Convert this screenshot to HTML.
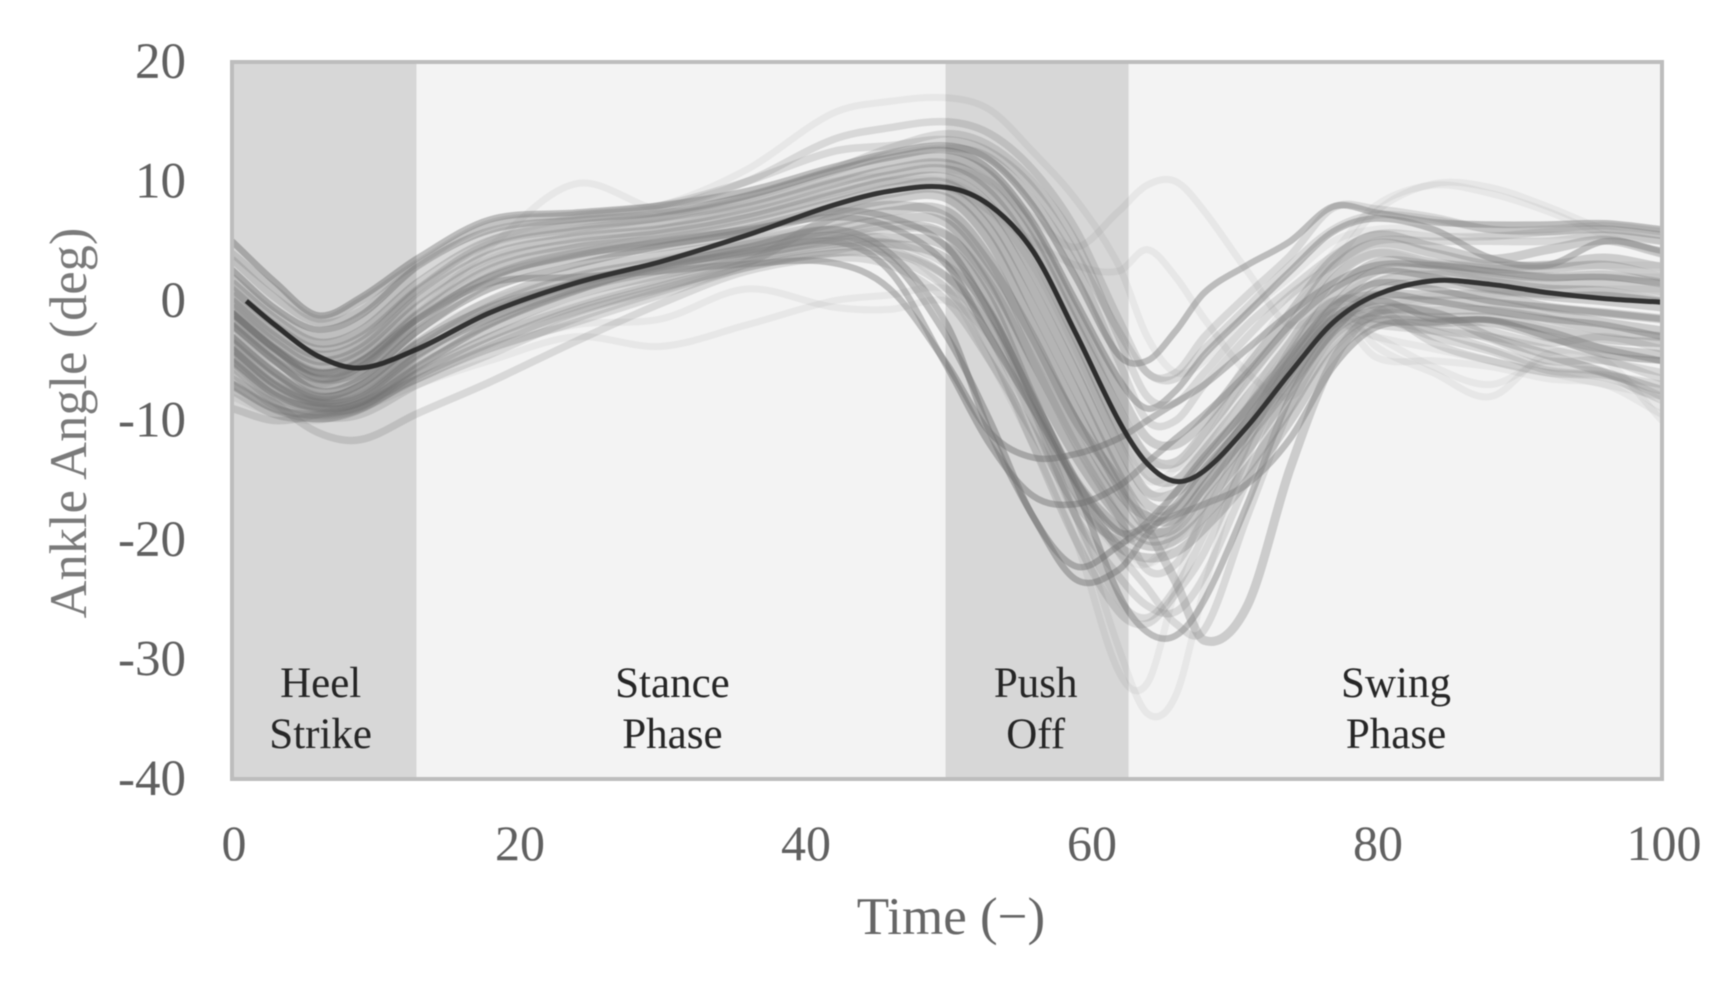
<!DOCTYPE html>
<html lang="en">
<head>
<meta charset="utf-8">
<title>Ankle Angle over Gait Cycle</title>
<style>
html,body{margin:0;padding:0;background:#fff;width:1726px;height:981px;overflow:hidden}
svg{display:block;font-family:"Liberation Serif",serif;filter:blur(0.6px)}
</style>
</head>
<body>
<svg id="chart" xmlns="http://www.w3.org/2000/svg" width="1726" height="981" viewBox="0 0 1726 981"></svg>
<script>
const timeSamples = [0,3,6,9,13,18,24,30,36,42,46,50,53,56,59,62,64,66,68,71,74,77,80,84,88,92,96,100];
const meanTimes = [1,3,6,9,13,18,24,30,36,42,46,50,53,56,59,62,64,66,68,71,74,77,80,84,88,92,96,100];
const meanAngle = [0,-2,-4.6,-5.6,-4,-1,1.5,3.3,5.5,8,9.2,9.5,8,4.2,-2.7,-10,-13.6,-15.1,-14.2,-10.5,-6,-1.8,0.5,1.7,1.4,0.7,0.2,-0.1];
const seriesStrong = [
[5,1.6,-1.2,0.3,3.6,6.8,7.4,8,9.2,11.2,12.4,13,11.8,8,2,-4.5,-5,-2.5,0.7,3,5,7.9,7.4,6.6,6.4,6.4,6.5,6],
[2.6,-0.6,-2.4,-1.2,2.9,5.9,6.8,7.4,8.8,10.9,12,12.6,11,6.6,0,-6.5,-9,-7.5,-4.5,-1,2.5,5.8,6.9,6,3.6,3,5,4.2],
[-1,-4,-6,-5,-1.5,1.5,2,2.5,3.1,3.2,1,-5.3,-11,-13.1,-12.8,-11.5,-10,-8.5,-7,-4,-1,1.5,3,3,2.5,2,2,1.5],
[-3,-6,-8,-7,-3.5,-0.5,1.5,3,4,5,2.5,-5.5,-12,-16.3,-17,-15.5,-13.5,-11.5,-9.5,-6,-2,1,2.5,2,1,0.5,0.5,0],
[-4,-7,-8.5,-8,-4.5,-1.5,1,2.8,4.2,5.5,3.5,-3,-10,-18,-22.2,-20.5,-18.5,-16,-13,-9,-4.5,-0.5,1.5,1,0,-0.5,-1,-1.5],
[-5,-7.8,-9,-8.5,-5.5,-2,0.8,3,4.5,6,4,-2,-11,-18,-23.3,-22.5,-19.5,-17,-14,-10,-5.5,-1.5,0.5,0,-0.8,-1.5,-2,-3],
[-2,-5,-7.5,-6.5,-2.5,1,3,4.6,5.8,7.5,7,4.5,-1,-8,-15.5,-24.5,-27.7,-28,-25,-17,-8,-2.5,0,-1.5,-1.6,-2.5,-4,-5],
[-1,-4,-6.5,-5.5,-1.5,2,3.8,5,6,7,6.2,3,-3,-9,-15,-19.3,-18.9,-17.9,-17,-15.3,-11.5,-5.5,-2.2,-1.8,-1.6,-3,-4.5,-5]
];
const seriesMid = [
[1.5,-1.5,-3.5,-2.5,1.5,5,6.3,7,8.3,10.3,11.6,12,10.5,6,-0.8,-7.5,-11.5,-12,-10,-5.5,-1,3.5,5.5,4.5,3.5,4.3,5.1,4],
[0.5,-2.5,-4.5,-3.5,0.8,4.4,5.8,6.5,7.8,9.8,11,11.5,9.5,5,-2,-9,-13,-13.5,-11,-6.5,-2,2.8,4.8,4,3,3,3.6,2.8],
[0,-3,-5,-4,0.2,3.8,5.3,6,7.3,9.3,10.5,11,9,4,-3,-10.5,-14.5,-15,-12.5,-8,-3.5,1.8,4,3.2,2.7,2.7,3,2],
[-0.5,-3.5,-5.5,-4.5,-0.5,3.2,4.8,5.6,6.9,8.8,10,10.3,8,2.5,-4.5,-12,-16,-16,-13.5,-9,-4.5,0.5,3.2,3,2.4,2,2.2,1.5],
[-1,-4,-6,-5.2,-1.2,2.6,4.4,5.2,6.4,8.2,9.4,9.8,7,1,-6,-13.5,-17,-17.3,-14.5,-10,-5.5,-0.5,2.5,2.6,2,1.4,1.5,0.8],
[-1.5,-4.5,-6.5,-5.8,-1.8,2,4,4.8,6,7.8,9,9.2,6,-0.5,-7.5,-14.5,-18,-18.2,-15.5,-11,-6.5,-1.5,1.5,2.2,1.6,1,0.8,0],
[-2,-5,-7,-6.2,-2.4,1.5,3.6,4.5,5.7,7.5,8.5,8.6,5,-2,-9,-15.5,-19,-19,-16,-11.5,-7,-2.5,0.8,1.5,1,0.4,0,-0.5],
[-3,-6,-8,-7.2,-3.5,0,2.5,3.8,5,6.5,7.5,7.5,3.5,-3.5,-10,-16,-18,-17.5,-14.5,-10,-5,-0.5,0.5,0.5,0.5,-0.5,-1,-1.5],
[-3.5,-6.5,-8.3,-7.6,-4,-0.5,2,3.3,4.7,6,6.8,6.5,2,-5,-11.5,-17,-19.5,-18.5,-15.5,-11,-6,-1.5,-0.2,0,-0.2,-1,-1.8,-2.5],
[-4,-7,-8.5,-8,-4.5,-1,1.5,3,4.3,5.5,6.3,5.5,1,-6.5,-13,-18,-20,-19.5,-17,-12.5,-7.5,-2.5,-0.8,-0.8,-0.8,-1.5,-2.5,-3],
[-4.5,-7.5,-8.8,-8.4,-5,-1.8,1,2.6,3.9,5,5.3,4.5,0,-8,-15,-19,-20.5,-20,-18,-14,-9,-3.5,-1.2,-1.4,-1.4,-2.3,-3.2,-3.5],
[-5,-8,-9,-8.8,-5.5,-2.4,0.5,2.2,3.6,4.8,4.8,3.5,-1,-8.5,-16,-20.5,-21.5,-21,-19,-15,-10,-4.5,-1.8,-1.8,-1.8,-3,-4,-4.5],
[-7,-9,-9.8,-9,-6.2,-3.5,-0.8,1.2,3.2,7,8,7,3,-3,-10,-15,-19,-23.5,-28.4,-25.5,-14,-5,-1,-1,-3,-4.5,-6,-7.5]
];
const seriesLight = [
[3.5,0.3,-1.8,-0.8,3,6.3,7.2,8,10,12.5,13,13.5,12.5,9.5,4,-2.5,-6,-6.5,-4,-0.5,3,6,7.2,6.8,6,5.8,6,5.5],
[4,1,-1.5,0,3.2,6.5,7.2,7.8,10,13.5,14.5,15,14,11,6,-1.5,-6,-6,-3,0.5,3.8,7.8,7.7,7,6,6,6.3,5.8],
[-5.5,-8.5,-11,-11.6,-9.4,-6.8,-3.4,-0.2,2.5,3.6,3,0,-5,-11,-17,-20,-19,-16,-13,-9,-5,-1.5,-2,-2.5,-3,-4,-5,-6],
[-9,-10,-9.5,-8.5,-6.5,-4,-1.8,0.5,2.8,4,4,2,-2,-9,-18,-25,-26.5,-24,-19.5,-12,-5,-1,-1.5,-2.5,-4,-5.5,-6,-8],
[-6,-8.8,-9.6,-9,-6,-3,-0.5,1.5,3.3,4.5,4.2,2,-3,-10,-18,-23,-25.5,-26,-23,-15,-7,-2,-0.5,-1,-2.5,-3.5,-3,-4],
[-7.5,-9.5,-9.8,-9.5,-7,-4.5,-1.5,0.8,2.8,4,3.6,1,-4,-12,-20,-26,-27,-24.5,-21,-13,-6,-2,-1,-2,-3.2,-5,-5,-6.5],
[-7,-9,-9.5,-8.8,-6.5,-3.8,-1,1,3,4.2,4.8,3,-1,-8,-15,-21,-24,-27,-27.5,-18,-9,-3,-1.5,-3,-4.2,-5.8,-6.2,-7],
[-6.5,-8.5,-9.3,-8.8,-6,-3,-0.2,1.8,3.6,5.2,6,5.5,1.5,-5,-12,-18,-22.5,-22,-18,-11,-4,0,-0.5,-3.5,-5,-6,-6.4,-8.3],
[2,-1,-3,-1.8,2.2,5.5,6.6,7.2,8.8,11,12.8,14,13,10,5,-3,-8,-8.5,-6,-2,1,3.8,5.6,5.4,5.4,5.8,6,5.5],
[1,-2,-4,-3,1,4.8,6,7,8.6,10.8,12.2,12.8,12,8.5,3,-5,-10,-10,-7,-3,0.5,3,5,5,5,5,5.5,5]
];
const seriesFaint = [
[-2,-5,-7,-5,-1,4.5,9.8,7.6,8,10,11,11.5,10,6,-1,-9,-13,-14,-12,-7,-2,2,4,3,2,2,2,2],
[1,-2,-4,-3,1,5,7,8,11,15.7,16.7,17,16,12.5,8.5,3,-3,-6,-5,-1,2,5,6,6,5.5,5.5,5.5,5],
[-1,-4,-6,-4.5,-1,2.5,4.5,6,8,10,10.5,11,10,7,4.5,7.5,9.7,10,7.5,2.5,-2,0,2,3,3,3,3,3],
[-2,-5,-7,-5.5,-2,2,4,5.5,7,9,10,9.5,7.5,5,3,2.5,4.3,2,-1.5,-6,-8,-4,-1,0.5,0.5,1,1,1],
[-3,-6,-8,-7,-3,0,2,3.5,5,6,5,2,-2,-10,-18,-29,-34.5,-33,-24,-12,-5,-2,-3,-4,-5,-6,-7,-8],
[-4,-7,-8.5,-7.5,-4,-1,1.5,3,4.5,5.5,4.5,1,-5,-12,-20,-31,-32,-24,-17,-9,-3,-1,-4.7,-5,-5.5,-6.5,-7,-9.5],
[-8,-9.5,-10,-9,-7,-5,-3,-3.8,-2,0,0.5,1,-2,-8,-15,-20,-22,-20,-17,-10,-5,-1.5,-3,-5.5,-7,-5,-6,-9],
[-7,-9,-9.5,-9,-6.5,-4,-2,-1.5,1,-0.5,-0.7,0,-3,-9,-16,-21,-22,-19,-15,-9,-4,0,-3.8,-6,-8,-4.4,-5,-10],
[0,-3,-5,-4,0,3.5,5.5,6.5,7.5,9,10,10,8,4,-3,-11,-15,-14,-11,-5,0,4,8,9.7,9,7.5,5.5,4],
[-1,-4,-6,-5,-1,3,5,6,7,8.5,9.5,9.5,7.5,3,-4,-12,-16,-15,-12,-6,-1,3,7.5,9.8,9.5,7.9,6,5]
];
const yTickLabels = [20,10,0,-10,-20,-30,-40];
const xTickLabels = [0,20,40,60,80,100];
const shadedPhaseStarts = [0,49.9];
const shadedPhaseEnds = [12.9,62.7];
const phaseLabelLineOne = ["Heel","Stance","Push","Swing"];
const phaseLabelLineTwo = ["Strike","Phase","Off","Phase"];
const phaseLabelCenters = [6.2,30.8,56.2,81.4];

const NS = "http://www.w3.org/2000/svg";
const svg = document.getElementById("chart");
const xPos = t => 232 + t * 14.3;
const yPos = v => 62 + (20 - v) * 11.95;

function make(tag, attrs, parent, text) {
  const el = document.createElementNS(NS, tag);
  for (const k in attrs) el.setAttribute(k, attrs[k]);
  if (text !== undefined) el.textContent = text;
  (parent || svg).appendChild(el);
  return el;
}

function curvePath(values, times) {
  const pts = values.map((v, i) => [times[i], v]);
  const slope = i => {
    const a = pts[Math.max(0, i - 1)], b = pts[Math.min(pts.length - 1, i + 1)];
    return (b[1] - a[1]) / (b[0] - a[0]);
  };
  let d = "M" + xPos(pts[0][0]).toFixed(1) + " " + yPos(pts[0][1]).toFixed(1);
  for (let i = 0; i < pts.length - 1; i++) {
    const h = pts[i + 1][0] - pts[i][0];
    const c1 = [pts[i][0] + h / 3, pts[i][1] + slope(i) * h / 3];
    const c2 = [pts[i + 1][0] - h / 3, pts[i + 1][1] - slope(i + 1) * h / 3];
    d += "C" + xPos(c1[0]).toFixed(1) + " " + yPos(c1[1]).toFixed(1) + " " +
         xPos(c2[0]).toFixed(1) + " " + yPos(c2[1]).toFixed(1) + " " +
         xPos(pts[i + 1][0]).toFixed(1) + " " + yPos(pts[i + 1][1]).toFixed(1);
  }
  return d;
}

const clip = make("clipPath", {id: "plot-clip"});
make("rect", {x: xPos(0), y: yPos(20), width: xPos(100) - xPos(0), height: yPos(-40) - yPos(20)}, clip);

const plot = make("g", {});



const plotBg = make("rect", {x: xPos(0), y: yPos(20), width: xPos(100) - xPos(0), height: yPos(-40) - yPos(20), fill: "#f3f3f3"}, plot);



const lineGroup = make("g", {"clip-path": "url(#plot-clip)", fill: "none", "stroke-linejoin": "round"}, plot);



seriesFaint.forEach(vals => {
  const p = make("path", {d: curvePath(vals, timeSamples), stroke: "#808080", "stroke-width": 7, "stroke-opacity": 0.1}, lineGroup);
  
  
});
seriesLight.forEach(vals => {
  const p = make("path", {d: curvePath(vals, timeSamples), stroke: "#808080", "stroke-width": 7.5, "stroke-opacity": 0.24}, lineGroup);
  
  
});
seriesMid.forEach(vals => {
  const p = make("path", {d: curvePath(vals, timeSamples), stroke: "#808080", "stroke-width": 9, "stroke-opacity": 0.34}, lineGroup);
  
  
});
seriesStrong.forEach(vals => {
  const p = make("path", {d: curvePath(vals, timeSamples), stroke: "#808080", "stroke-width": 6.5, "stroke-opacity": 0.48}, lineGroup);
  
  
});

const meanLine = make("path", {d: curvePath(meanAngle, meanTimes), fill: "none", stroke: "#333333", "stroke-width": 5}, plot);



shadedPhaseStarts.forEach((s, i) => {
  const r = make("rect", {x: xPos(s), y: yPos(20), width: xPos(shadedPhaseEnds[i]) - xPos(s), height: yPos(-40) - yPos(20), fill: "#000", "fill-opacity": 0.115}, plot);
  
  
});

const frame = make("rect", {x: xPos(0), y: yPos(20), width: xPos(100) - xPos(0), height: yPos(-40) - yPos(20), fill: "none", stroke: "#bdbdbd", "stroke-width": 4}, plot);



phaseLabelLineOne.forEach((t, i) => {
  const a = make("text", {x: xPos(phaseLabelCenters[i]), y: 697, "text-anchor": "middle", "font-size": 43, fill: "#262626"}, svg, t);
  
  
  const b = make("text", {x: xPos(phaseLabelCenters[i]), y: 748, "text-anchor": "middle", "font-size": 43, fill: "#262626"}, svg, phaseLabelLineTwo[i]);
  
  
});

yTickLabels.forEach(v => {
  const t = make("text", {x: 186, y: yPos(v) + 16, "text-anchor": "end", "font-size": 51, fill: "#606060"}, svg, String(v));
  
  
});
xTickLabels.forEach(v => {
  const t = make("text", {x: xPos(v) + 2, y: 860, "text-anchor": "middle", "font-size": 50, fill: "#606060"}, svg, String(v));
  
  
});

const xTitle = make("text", {x: 951, y: 934, "text-anchor": "middle", "font-size": 53, fill: "#666666"}, svg, "Time (\u2212)");



const yTitle = make("text", {x: 0, y: 0, transform: "translate(86 423) rotate(-90)", "text-anchor": "middle", "font-size": 52.5, fill: "#7a7a7a"}, svg, "Ankle Angle (deg)");


</script>
</body>
</html>
